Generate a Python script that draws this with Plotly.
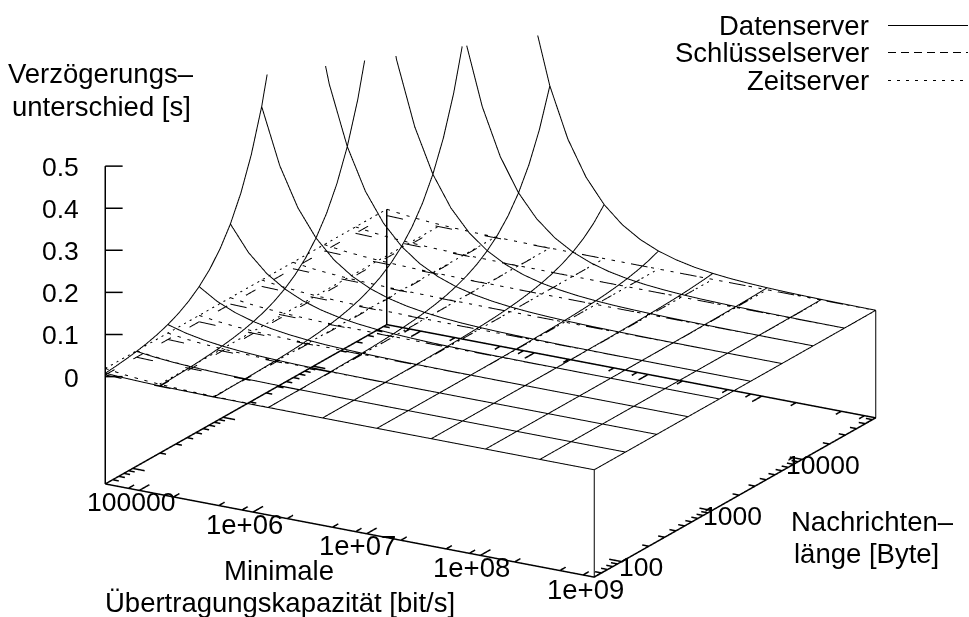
import math
import plotly.graph_objects as go

# ---------- axes ----------
x_range = [50000, 1000000000]
y_range = [50, 65536]
z_range = [-0.255, 0.5]
z_ticks = [0, 0.1, 0.2, 0.3, 0.4, 0.5]
z_tick_labels = ["0", "0.1", "0.2", "0.3", "0.4", "0.5"]
x_major = [100000, 1000000, 10000000, 100000000, 1000000000]
x_major_labels = ["100000", "1e+06", "1e+07", "1e+08", "1e+09"]
x_minor = [80000, 200000, 500000, 800000, 2000000, 5000000, 8000000, 20000000, 50000000, 80000000,
           200000000, 500000000, 800000000]
y_major = [100, 1000, 10000]
y_major_labels = ["100", "1000", "10000"]
y_minor = [60, 70, 80, 90, 200, 300, 400, 500, 600, 700, 800, 900, 2000, 3000, 4000, 5000, 6000, 7000,
           8000, 9000, 20000, 30000, 40000, 50000, 60000]

# ---------- sample positions ----------
capacity = [50000, 72155, 104130, 150270, 216860, 312950, 451620, 651740, 940520, 1357300, 1958700, 2826600,
            4079100, 5886700, 8495000, 12259000, 17692000, 25532000, 36845000, 53171000, 76732000, 110730000,
            159800000, 230610000, 332800000, 480260000, 693070000, 1000000000]
length = [50, 65.227, 85.091, 111.0, 144.81, 188.91, 246.44, 321.49, 419.4, 547.12, 713.74, 931.11, 1214.7,
          1584.6, 2067.2, 2696.7, 3518.0, 4589.3, 5986.9, 7810.2, 10189, 13292, 17340, 22620, 29509, 38496,
          50219, 65536]
capacity_iso = capacity[::3]
length_iso = length[::3]

# ---------- Datenserver: one row per iso-capacity line, over `length` ----------
daten_by_capacity = [
    [.008, .01044, .01361, .01776, .02316, .03021, .03941, .05142, .06707, .0875, .1141, .1489, .1942, .2534,
     .3305, .4312, .5625, .7338, .957, 1.248, 1.629, 2.124, 2.771, 3.614, 4.714, 6.15, 8.02, 10.46],
    [.00266, .00348, .00453, .00591, .00771, .01006, .01312, .01712, .02233, .02913, .038, .0496, .0647, .0844,
     .11, .1435, .1873, .2443, .3187, .4157, .5423, .7074, .923, 1.204, 1.57, 2.05, 2.67, 3.48],
    [.00089, .00116, .00151, .00197, .00257, .00335, .00437, .0057, .00743, .0097, .01265, .01651, .02154, .0281,
     .0366, .0478, .0623, .0813, .1061, .1384, .1805, .2355, .3072, .4007, .5228, .682, .89, 1.16],
    [.0003, .00039, .0005, .00066, .00086, .00112, .00146, .0019, .00248, .00323, .00421, .0055, .00717, .00935,
     .0122, .0159, .0207, .027, .0353, .046, .06, .0783, .1021, .1332, .1737, .2266, .2956, .3856],
    [.0001, .00013, .00017, .0002, .0003, .0004, .0005, .0006, .0008, .0011, .0014, .0018, .0024, .0031,
     .0041, .0053, .0069, .009, .0118, .0153, .02, .0261, .034, .0443, .0578, .0754, .0984, .1284],
    [.00003, .00004, .00005, .00007, .0001, .0001, .0002, .0002, .0003, .0004, .0005, .0006, .0008, .001,
     .0014, .0018, .0023, .003, .0039, .0051, .0067, .0087, .0113, .0147, .0192, .0251, .0328, .0427],
    [.00001, .00001, .00002, .00002, .00003, .00004, .00005, .00007, .0001, .0001, .0002, .0002, .0003, .0003,
     .0005, .0006, .0008, .001, .0013, .0017, .0022, .0029, .0038, .0049, .0064, .0084, .0109, .0142],
    [0, 0, .00001, .00001, .00001, .00001, .00002, .00002, .00003, .00004, .00005, .00007, .0001, .0001,
     .0002, .0002, .0003, .0003, .0004, .0006, .0007, .001, .0013, .0016, .0021, .0028, .0036, .0047],
    [0, 0, 0, 0, 0, 0, .00001, .00001, .00001, .00001, .00002, .00002, .00003, .00004,
     .00005, .00007, .0001, .0001, .0001, .0002, .0002, .0003, .0004, .0005, .0007, .0009, .0012, .0016],
    [0, 0, 0, 0, 0, 0, 0, 0, 0, 0, .00001, .00001, .00001, .00001,
     .00002, .00002, .00003, .00004, .00005, .00007, .0001, .0001, .0001, .0002, .0002, .0003, .0004, .0005],
]

# ---------- Datenserver: one row per iso-length line, over `capacity` ----------
daten_by_length = [
    [.008, .0055, .0038, .0027, .0018, .0013, .0009, .0006, .0004, .0003, .0002, .00015, .0001, .00007,
     .00005, .00003, .00002, .00002, .00001, .00001, 0, 0, 0, 0, 0, 0, 0, 0],
    [.0178, .0123, .0085, .0059, .0041, .0028, .002, .0014, .0009, .0007, .0005, .0003, .0002, .0002,
     .0001, .00008, .00005, .00004, .00003, .00002, .00001, .00001, 0, 0, 0, 0, 0, 0],
    [.0394, .0273, .0189, .0131, .0091, .0063, .0044, .003, .0021, .0015, .001, .0007, .0005, .0003,
     .0002, .0002, .0001, .00008, .00005, .00004, .00003, .00002, .00001, .00001, 0, 0, 0, 0],
    [.0875, .0606, .042, .0291, .0202, .014, .0097, .0067, .0047, .0032, .0022, .0016, .0011, .0008,
     .0005, .0004, .0003, .0002, .0001, .0001, .00006, .00004, .00003, .00002, .00001, .00001, 0, 0],
    [.1942, .1346, .0933, .0647, .0448, .0311, .0215, .0149, .0103, .0072, .005, .0034, .0024, .0017,
     .0012, .0008, .0006, .0004, .0003, .0002, .0001, .0001, .00007, .00005, .00003, .00002, .00002, .00001],
    [.4312, .2989, .2071, .1436, .0995, .069, .0478, .0331, .023, .0159, .011, .0076, .0053, .0037,
     .0026, .0018, .0012, .0008, .0006, .0004, .0003, .0002, .0001, .0001, .00008, .00005, .00004, .00003],
    [.957, .6633, .4597, .3186, .2208, .1531, .1061, .0735, .051, .0353, .0245, .017, .0118, .0082,
     .0057, .0039, .0027, .0019, .0013, .0009, .0006, .0004, .0003, .0002, .0001, .0001, .0001, .0001],
    [2.124, 1.472, 1.02, .7072, .4902, .3397, .2355, .1632, .1131, .0784, .0543, .0377, .0261, .0181,
     .0125, .0087, .006, .0042, .0029, .002, .0014, .001, .0007, .0005, .0003, .0002, .0002, .0001],
    [4.714, 3.267, 2.265, 1.57, 1.088, .754, .5226, .3622, .2511, .174, .1206, .0836, .0579, .0402,
     .0278, .0193, .0134, .0093, .0064, .0044, .0031, .0021, .0015, .001, .0007, .0005, .0003, .0002],
    [10.46, 7.25, 5.025, 3.483, 2.414, 1.673, 1.16, .8038, .5571, .3861, .2676, .1855, .1286, .0891,
     .0618, .0428, .0297, .0206, .0143, .0099, .0069, .0048, .0033, .0023, .0016, .0011, .0008, .0005],
]

# ---------- the two flatter surfaces: value by capacity, same at every length ----------
schluessel = [.004, .00277, .00192, .00133, .00092, .00064, .00044, .00031, .00021, .00015, .0001, .00007,
              .00005, .00003, .00002, .00002, .00001, .00001, .00001, 0, 0, 0, 0, 0, 0, 0, 0, 0]
zeit = [.0192, .0133, .00923, .0064, .00443, .00307, .00213, .00148, .00102, .00071, .00049, .00034, .00024,
        .00016, .00011, .00008, .00005, .00004, .00003, .00002, .00001, .00001, 0, 0, 0, 0, 0, 0]

back_post_top = 0.019

# ---------- styling ----------
FONT = "Liberation Sans"
FS_TEXT = 27.5
FS_NUM = 26.5
BLACK = "#000000"
W_THIN, W_AXIS, W_TICK = 2, 3, 3
MAJOR_X_TICK, MINOR_X_TICK = 0.035, 0.02   # fractions of the other axis' span
MAJOR_Y_TICK, MINOR_Y_TICK = 0.025, 0.013

fig = go.Figure()
def seg(xs, ys, zs, width=W_THIN, dash="solid"):
    fig.add_trace(go.Scatter3d(x=xs, y=ys, z=zs, mode="lines", showlegend=False, hoverinfo="skip",
                               line=dict(color=BLACK, width=width, dash=dash)))

x0, x1 = x_range
y0, y1 = y_range
zb = z_range[0]
xspan = x1 / x0
yspan = y1 / y0

# ticks first, lifted a touch above the floor plane
z_tick_plane = zb + 0.0004
for vals, fy in ((x_major, MAJOR_X_TICK), (x_minor, MINOR_X_TICK)):
    for v in vals:
        seg([v, v], [y0, y0 * yspan ** fy], [z_tick_plane] * 2, W_TICK)
        seg([v, v], [y1, y1 / yspan ** fy], [z_tick_plane] * 2, W_TICK)
for vals, fx in ((y_major, MAJOR_Y_TICK), (y_minor, MINOR_Y_TICK)):
    for v in vals:
        seg([x1, x1 / xspan ** fx], [v, v], [z_tick_plane] * 2, W_TICK)
        seg([x0, x0 * xspan ** fx], [v, v], [z_tick_plane] * 2, W_TICK)

# surfaces
for cap, row in zip(capacity_iso, daten_by_capacity):
    seg([cap] * len(length), length, row)
for ln, row in zip(length_iso, daten_by_length):
    seg(capacity, [ln] * len(capacity), row)
for vals, dash in ((schluessel, "longdash"), (zeit, "dash")):
    for ln in length_iso:
        seg(capacity, [ln] * len(capacity), vals, dash=dash)
    for cap, v in zip(capacity_iso, vals[::3]):
        seg([cap] * len(length), length, [v] * len(length), dash=dash)

# base frame and verticals
seg([x0, x1, x1, x0, x0], [y0, y0, y1, y1, y0], [zb] * 5, W_AXIS)
seg([x0, x0], [y0, y0], [zb, z_range[1]], W_AXIS)
seg([x0, x0], [y1, y1], [zb, back_post_top], W_AXIS)
seg([x1, x1], [y0, y0], [zb, 0], W_THIN)
seg([x1, x1], [y1, y1], [zb, 0], W_THIN)
for z in z_ticks:
    seg([x0, x0 * xspan ** 0.0265], [y0, y0 * yspan ** 0.0155], [z, z], W_AXIS)

# tick labels anchored to the axes
annos3d = []
def lab3d(x, y, z, text, dx, dy, size, xanchor="center"):
    annos3d.append(dict(x=math.log10(x), y=math.log10(y), z=z, text=text, showarrow=False,
                        xanchor=xanchor, yanchor="middle", xshift=dx, yshift=dy,
                        font=dict(family=FONT, size=size, color=BLACK)))
for z, t in zip(z_ticks, z_tick_labels):
    lab3d(x0, y0, z, t, -24, -1, FS_NUM, "right")
for v, t in zip(x_major, x_major_labels):
    lab3d(v, y0, zb, t, -9, -12, FS_NUM if t == "100000" else FS_TEXT)
for v, t, dx in zip(y_major, y_major_labels, (20, 21, 21)):
    lab3d(x1, v, zb, t, dx, -5, FS_NUM)

# titles and legend
TITLES = [
    (101, 73, "Verzögerungs–"), (101, 107, "unterschied [s]"),
    (279, 570, "Minimale"), (280, 602, "Übertragungskapazität [bit/s]"),
    (872, 521, "Nachrichten–"), (866, 553, "länge [Byte]"),
]
LEGEND = [("Datenserver", 25.5, "solid"), ("Schlüsselserver", 52.5, "8px,5px"), ("Zeitserver", 80.5, "3px,6px")]
W, H = 969, 617
annos = [dict(x=px / W, y=1 - py / H, xref="paper", yref="paper", text=t, showarrow=False, xanchor="center",
              yanchor="middle", font=dict(family=FONT, size=FS_TEXT, color=BLACK)) for px, py, t in TITLES]
shapes = []
for name, py, dash in LEGEND:
    annos.append(dict(x=871 / W, y=1 - py / H, xref="paper", yref="paper", text=name, showarrow=False,
                      xanchor="right", yanchor="middle", font=dict(family=FONT, size=FS_TEXT, color=BLACK)))
    shapes.append(dict(type="line", xref="paper", yref="paper", x0=888 / W, x1=968 / W, y0=1 - py / H,
                       y1=1 - py / H, line=dict(color=BLACK, width=1, dash=dash)))

hidden = dict(showgrid=False, zeroline=False, showline=False, showticklabels=False, ticks="", showbackground=False,
              showspikes=False, title=dict(text=""))
# the scene box sits a hair outside the frame so that the frame lines are not cut off by it
fig.update_layout(
    width=W, height=H, margin=dict(l=0, r=0, t=0, b=0), paper_bgcolor="white", showlegend=False,
    annotations=annos, shapes=shapes,
    scene=dict(
        domain=dict(x=[0, 1], y=[0, 1]),
        xaxis=dict(type="log", range=[math.log10(x0) - 0.002, math.log10(x1) + 0.002], **hidden),
        yaxis=dict(type="log", range=[math.log10(y0) - 0.002, math.log10(y1) + 0.002], **hidden),
        zaxis=dict(range=[z_range[0] - 0.0025, z_range[1]], **hidden),
        aspectmode="manual", aspectratio=dict(x=1.8342, y=1.8203, z=1.0944),
        camera=dict(projection=dict(type="orthographic"), up=dict(x=0, y=0, z=1),
                    center=dict(x=-0.00829, y=-0.02454, z=-0.04907),
                    eye=dict(x=0.9399, y=-1.6583, z=0.6077)),
        annotations=annos3d,
    ),
)
fig.write_html("out.html", post_script="document.body.style.margin='0';",
               config=dict(displayModeBar=False))
